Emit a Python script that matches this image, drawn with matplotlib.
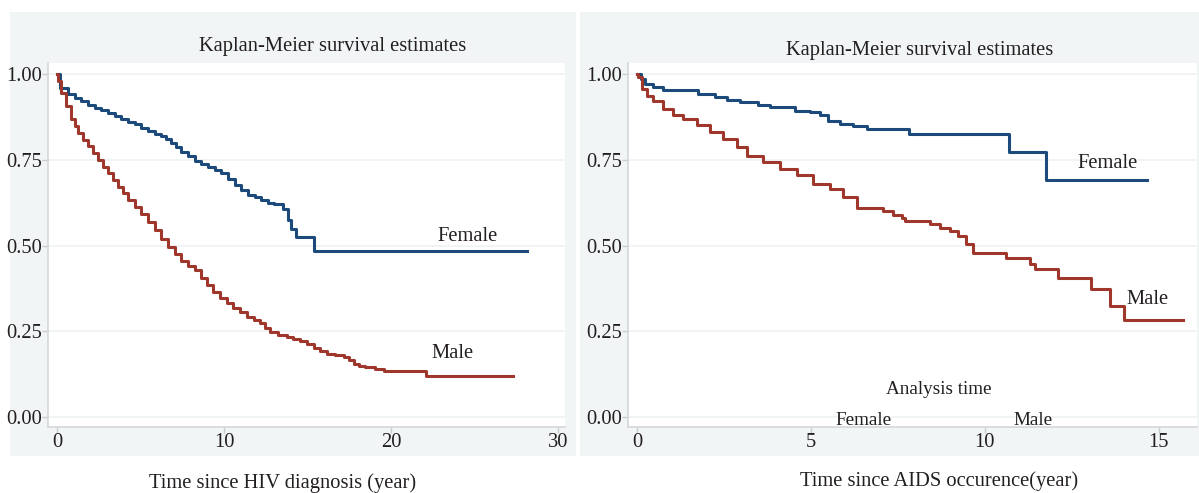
import matplotlib
matplotlib.use("Agg")
import matplotlib.pyplot as plt
from matplotlib.patches import Rectangle

plt.rcParams['font.family'] = ['Liberation Serif', 'DejaVu Serif']

# Left panel: time since HIV diagnosis
hiv_female_t = [0, 0.16, 0.66, 1.06, 1.46, 1.86, 2.26, 2.66, 3.05, 3.45, 3.85, 4.25,
                4.65, 5.05, 5.45, 5.85, 6.25, 6.55, 6.84, 7.14, 7.44, 7.84, 8.24,
                8.64, 9.04, 9.44, 9.84, 10.24, 10.64, 11.04, 11.44, 11.84, 12.2,
                12.6, 13.0, 13.5, 13.8, 14.0, 14.3, 15.35, 28.1]
hiv_female_s = [1.0, 0.958, 0.941, 0.931, 0.921, 0.911, 0.902, 0.895, 0.887, 0.877,
                0.868, 0.861, 0.853, 0.843, 0.833, 0.826, 0.819, 0.81, 0.799, 0.787,
                0.774, 0.76, 0.745, 0.738, 0.73, 0.72, 0.711, 0.694, 0.676, 0.662,
                0.647, 0.64, 0.632, 0.625, 0.62, 0.605, 0.575, 0.548, 0.524, 0.484,
                0.484]
hiv_male_t = [0, 0.06, 0.26, 0.56, 0.86, 1.06, 1.26, 1.56, 1.86, 2.16, 2.46, 2.76,
              3.05, 3.35, 3.65, 3.95, 4.25, 4.65, 5.05, 5.45, 5.85, 6.25, 6.65,
              7.05, 7.44, 7.84, 8.24, 8.6, 8.96, 9.36, 9.76, 10.16, 10.56, 10.96,
              11.36, 11.76, 12.16, 12.45, 12.75, 13.25, 13.75, 14.15, 14.55, 14.95,
              15.35, 15.75, 16.15, 16.65, 17.15, 17.45, 17.75, 18.1, 18.44, 19.0,
              19.54, 22.1, 27.3]
hiv_male_s = [1.0, 0.98, 0.946, 0.907, 0.868, 0.848, 0.828, 0.808, 0.789, 0.77,
              0.75, 0.73, 0.711, 0.691, 0.672, 0.652, 0.632, 0.612, 0.593, 0.568,
              0.544, 0.52, 0.495, 0.475, 0.456, 0.441, 0.428, 0.406, 0.384, 0.365,
              0.347, 0.332, 0.318, 0.305, 0.293, 0.284, 0.274, 0.26, 0.247, 0.24,
              0.234, 0.228, 0.221, 0.212, 0.202, 0.193, 0.185, 0.18, 0.176, 0.165,
              0.154, 0.15, 0.145, 0.14, 0.135, 0.119, 0.119]

# Right panel: time since AIDS occurence
aids_female_t = [0, 0.1, 0.23, 0.47, 0.76, 1.76, 2.24, 2.58, 2.96, 3.49, 3.82, 4.54,
                 4.97, 5.26, 5.5, 5.83, 6.2, 6.6, 7.83, 10.7, 11.75, 14.67]
aids_female_s = [1.0, 0.985, 0.971, 0.961, 0.952, 0.942, 0.932, 0.925, 0.918, 0.91,
                 0.903, 0.893, 0.889, 0.879, 0.864, 0.855, 0.849, 0.84, 0.825, 0.774,
                 0.692, 0.692]
aids_male_t = [0, 0.04, 0.13, 0.28, 0.47, 0.76, 1.04, 1.33, 1.72, 2.1, 2.48, 2.86,
               3.15, 3.63, 4.11, 4.59, 5.07, 5.55, 5.93, 6.31, 7.08, 7.37, 7.61, 7.7,
               8.42, 8.71, 9.0, 9.23, 9.47, 9.66, 10.62, 11.3, 11.45, 12.1, 13.05,
               13.6, 14.0, 15.7]
aids_male_s = [1.0, 0.99, 0.956, 0.937, 0.922, 0.898, 0.879, 0.869, 0.85, 0.83,
               0.811, 0.787, 0.761, 0.743, 0.724, 0.705, 0.68, 0.664, 0.64, 0.61,
               0.6, 0.59, 0.581, 0.572, 0.562, 0.55, 0.541, 0.529, 0.504, 0.478,
               0.464, 0.446, 0.431, 0.405, 0.373, 0.324, 0.282, 0.282]

y_ticks = [0.0, 0.25, 0.5, 0.75, 1.0]
y_ticklabels = ["0.00", "0.25", "0.50", "0.75", "1.00"]
hiv_xticks = [0, 10, 20, 30]
aids_xticks = [0, 5, 10, 15]

BLUE = "#1c4a7a"
RED = "#a0372d"
BG = "#f1f5f6"
TXT = "#231f20"
FS = 14.8

W, H = 1199, 493
fig = plt.figure(figsize=(W / 100, H / 100), dpi=100)

# outer light panels, drawn on a background axes behind the plots
bg = fig.add_axes([0, 0, 1, 1], zorder=-1)
bg.set_xlim(0, W)
bg.set_ylim(H, 0)
bg.axis("off")
for x0, x1 in [(10, 576), (580, 1199)]:
    bg.add_patch(Rectangle((x0, 12), x1 - x0, 456 - 12, facecolor=BG, edgecolor="none"))

ax1 = fig.add_axes([48 / W, 1 - 427 / H, (565 - 48) / W, (427 - 63) / H])
ax2 = fig.add_axes([628 / W, 1 - 427 / H, (1197 - 628) / W, (427 - 63) / H])


def style_axis(ax, xticks, xlim):
    ax.set_facecolor("white")
    ax.set_xlim(*xlim)
    ax.set_ylim(-0.029, 1.032)
    ax.set_yticks(y_ticks)
    ax.set_yticklabels(y_ticklabels)
    ax.set_xticks(xticks)
    for s in ["top", "right"]:
        ax.spines[s].set_visible(False)
    for s in ["left", "bottom"]:
        ax.spines[s].set_color("#d4d8d9")
        ax.spines[s].set_linewidth(1.2)
    ax.tick_params(axis="both", colors="#c8cccd", labelcolor=TXT, labelsize=FS,
                   length=4, width=1, pad=0.5)
    ax.grid(axis="y", color="#eef2f3", linewidth=1.2)
    ax.set_axisbelow(True)


style_axis(ax1, hiv_xticks, (-0.54, 30.4))
style_axis(ax2, aids_xticks, (-0.26, 16.1))

ax1.step(hiv_female_t, hiv_female_s, where="post", color=BLUE, lw=2.2)
ax1.step(hiv_male_t, hiv_male_s, where="post", color=RED, lw=2.2)
ax2.step(aids_female_t, aids_female_s, where="post", color=BLUE, lw=2.2)
ax2.step(aids_male_t, aids_male_s, where="post", color=RED, lw=2.2)

ax1.text(24.6, 0.525, "Female", ha="center", va="center", fontsize=FS, color=TXT)
ax1.text(23.65, 0.184, "Male", ha="center", va="center", fontsize=FS, color=TXT)
ax2.text(13.53, 0.74, "Female", ha="center", va="center", fontsize=FS, color=TXT)
ax2.text(14.68, 0.344, "Male", ha="center", va="center", fontsize=FS, color=TXT)
ax2.text(8.68, 0.079, "Analysis time", ha="center", va="center", fontsize=FS - 1, color=TXT)
ax2.text(6.52, -0.009, "Female", ha="center", va="center", fontsize=FS - 1, color=TXT)
ax2.text(11.4, -0.009, "Male", ha="center", va="center", fontsize=FS - 1, color=TXT)

fig.text(333 / W, 1 - 47 / H, "Kaplan-Meier survival estimates", ha="center",
         va="center", fontsize=FS, color=TXT)
fig.text(920 / W, 1 - 50 / H, "Kaplan-Meier survival estimates", ha="center",
         va="center", fontsize=FS, color=TXT)
fig.text(283 / W, 1 - 483 / H, "Time since HIV diagnosis (year)", ha="center",
         va="center", fontsize=FS, color=TXT)
fig.text(939 / W, 1 - 481 / H, "Time since AIDS occurence(year)", ha="center",
         va="center", fontsize=FS, color=TXT)

fig.savefig("out.png", dpi=100, facecolor="white")
